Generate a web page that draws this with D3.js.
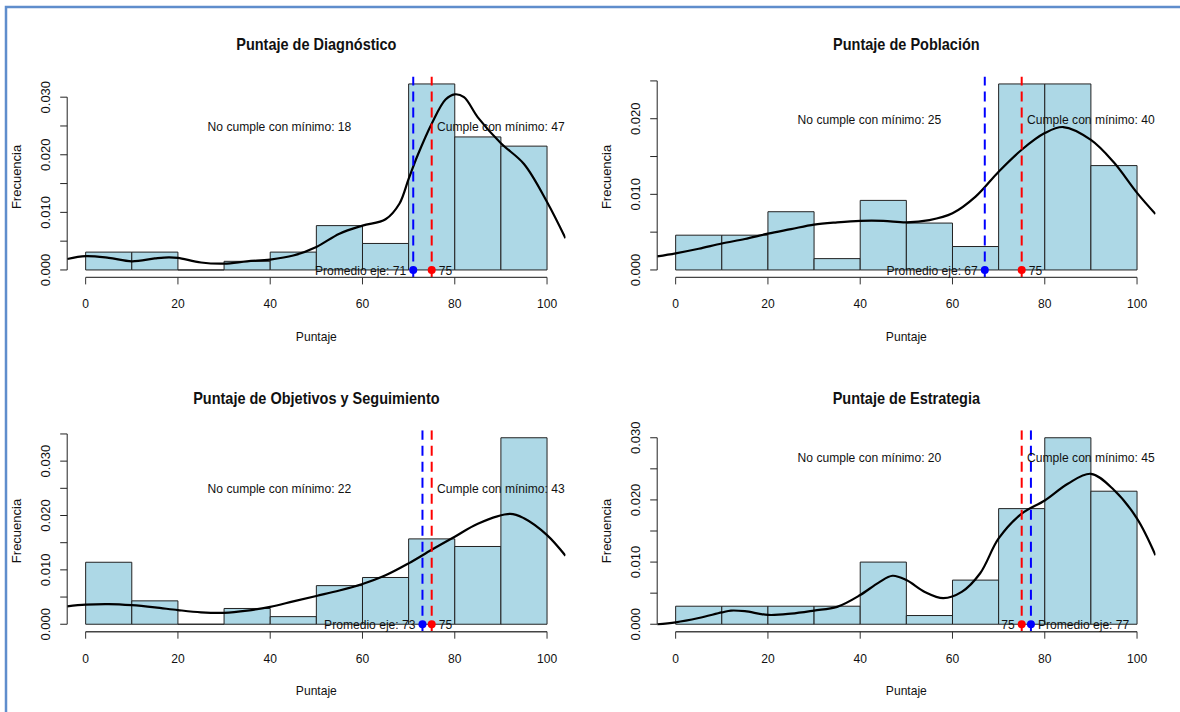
<!DOCTYPE html>
<html>
<head>
<meta charset="utf-8">
<script src="https://cdn.jsdelivr.net/npm/d3@7"></script>
<style>
  body { margin: 0; background: #fff; }
</style>
</head>
<body>
<div id="chart"></div>
<script>
////////// data //////////
var titles = ["Puntaje de Diagnóstico", "Puntaje de Población",
              "Puntaje de Objetivos y Seguimiento", "Puntaje de Estrategia"];

var binStarts = [0, 10, 20, 30, 40, 50, 60, 70, 80, 90];

// histogram densities (freq = FALSE)
var diagDensity = [0.0031, 0.0031, 0, 0.0015, 0.0031, 0.0077, 0.0046, 0.0323, 0.0231, 0.0215];
var poblDensity = [0.0046, 0.0046, 0.0077, 0.0015, 0.0092, 0.0062, 0.0031, 0.0246, 0.0246, 0.0138];
var objDensity  = [0.0114, 0.0043, 0, 0.0029, 0.0014, 0.0071, 0.0086, 0.0157, 0.0143, 0.0343];
var estrDensity = [0.0029, 0.0029, 0.0029, 0.0029, 0.0100, 0.0014, 0.0071, 0.0186, 0.0300, 0.0214];

// kernel density curves
var diagCurveX = [-4, 0, 5, 10, 15, 18, 20, 25, 30, 35, 40, 45, 50, 55, 60, 65, 68, 70, 72, 75, 78, 80, 82, 85, 90, 95, 100, 104];
var diagCurveY = [0.0019, 0.0024, 0.0021, 0.0015, 0.0020, 0.0022, 0.0021, 0.0013, 0.0011, 0.0015, 0.0018, 0.0025, 0.0040, 0.0063, 0.0077, 0.0088, 0.0115, 0.0158, 0.0200, 0.0254, 0.0296, 0.0305, 0.0300, 0.0265, 0.0220, 0.0184, 0.0118, 0.0055];

var poblCurveX = [-4, 0, 5, 10, 15, 20, 25, 30, 35, 40, 45, 50, 55, 60, 65, 70, 75, 80, 84, 90, 95, 100, 104];
var poblCurveY = [0.0018, 0.0022, 0.0028, 0.0035, 0.0041, 0.0048, 0.0054, 0.0060, 0.0063, 0.0065, 0.0065, 0.0063, 0.0066, 0.0075, 0.0097, 0.0130, 0.0159, 0.0181, 0.0189, 0.0172, 0.0142, 0.0102, 0.0074];

var objCurveX = [-4, 0, 5, 10, 15, 20, 25, 30, 35, 40, 45, 50, 55, 60, 65, 70, 75, 80, 85, 92, 95, 100, 104];
var objCurveY = [0.0033, 0.0036, 0.0037, 0.0035, 0.0031, 0.0026, 0.0022, 0.0021, 0.0025, 0.0032, 0.0042, 0.0052, 0.0062, 0.0074, 0.0090, 0.0112, 0.0137, 0.0161, 0.0185, 0.0203, 0.0195, 0.0164, 0.0126];

var estrCurveX = [-4, 0, 5, 10, 12, 15, 20, 25, 30, 35, 40, 44, 47, 50, 54, 58, 62, 66, 70, 75, 80, 85, 90, 95, 100, 104];
var estrCurveY = [0.0000, 0.0003, 0.0010, 0.0019, 0.0022, 0.0021, 0.0015, 0.0017, 0.0022, 0.0028, 0.0047, 0.0067, 0.0078, 0.0071, 0.0052, 0.0042, 0.0052, 0.0082, 0.0138, 0.0178, 0.0199, 0.0226, 0.0242, 0.0216, 0.0170, 0.0111];

var means    = [71, 67, 73, 77];     // promedio eje (blue)
var minimo   = 75;                   // minimum (red)
var noCumple = [18, 25, 22, 20];
var cumple   = [47, 40, 43, 45];
var noteY    = [0.0249, 0.0199, 0.0249, 0.0268];
var noteX    = [42, 90];

////////// page //////////
var W = 1180, H = 712,
    SX = 0.93,               // the original picture is a little squeezed sideways
    FONT = "'Liberation Sans', Arial, sans-serif";

var svg = d3.select("#chart").append("svg")
    .attr("width", W)
    .attr("height", H);

svg.append("rect").attr("width", W).attr("height", H).attr("fill", "#fff");

// frame of the pasted picture
svg.append("path")
    .attr("d", "M6,712 V7 H1180")
    .attr("fill", "none")
    .attr("stroke", "#5f8dcc")
    .attr("stroke-width", 2.5);

// horizontal text, squeezed like the original
function hText(g, x, y, s, anchor, size, weight) {
    return g.append("text")
        .attr("transform", "translate(" + x + "," + y + ") scale(" + SX + ",1)")
        .attr("text-anchor", anchor || "middle")
        .attr("font-family", FONT)
        .attr("font-size", size || 13)
        .attr("font-weight", weight || "normal")
        .attr("fill", "#111")
        .text(s);
}

function vText(g, x, y, s, size) {
    return g.append("text")
        .attr("transform", "translate(" + x + "," + y + ") scale(" + SX + ",1) rotate(-90)")
        .attr("text-anchor", "middle")
        .attr("font-family", FONT)
        .attr("font-size", size || 13)
        .attr("fill", "#111")
        .text(s);
}

var panels = [
    {dens: diagDensity, cx: diagCurveX, cy: diagCurveY, col: 0, row: 0},
    {dens: poblDensity, cx: poblCurveX, cy: poblCurveY, col: 1, row: 0},
    {dens: objDensity,  cx: objCurveX,  cy: objCurveY,  col: 0, row: 1},
    {dens: estrDensity, cx: estrCurveX, cy: estrCurveY, col: 1, row: 1}
];

// ====================== one histogram panel ======================
function drawPanel(p, i) {
    var left   = 67.2 + p.col * 590,
        right  = left + 498.3,
        top    = p.row ? 430.3 : 76.5,
        bottom = p.row ? 631.7 : 277.4,
        ymax   = d3.max(p.dens);

    var x = d3.scaleLinear().domain([-4, 104]).range([left, right]);
    var y = d3.scaleLinear().domain([-0.04 * ymax, 1.04 * ymax]).range([bottom, top]);

    var g = svg.append("g");

    g.append("clipPath").attr("id", "clip" + i)
        .append("rect")
        .attr("x", left).attr("y", top)
        .attr("width", right - left).attr("height", bottom - top);

    var plot = g.append("g").attr("clip-path", "url(#clip" + i + ")");

    // bars as paths so the empty bins still leave their base line
    plot.selectAll(".bar")
        .data(binStarts).enter()
        .append("path")
        .attr("class", "bar")
        .attr("d", function(b, j) {
            return "M" + x(b) + "," + y(0) + "V" + y(p.dens[j]) +
                   "H" + x(b + 10) + "V" + y(0) + "Z";
        })
        .attr("fill", "#add8e6")
        .attr("stroke", "#222")
        .attr("stroke-width", 1);

    // density curve
    var line = d3.line()
        .x(function(d) { return x(d[0]); })
        .y(function(d) { return y(d[1]); })
        .curve(d3.curveCatmullRom);

    plot.append("path")
        .datum(d3.zip(p.cx, p.cy))
        .attr("d", line)
        .attr("fill", "none")
        .attr("stroke", "#000")
        .attr("stroke-width", 2.2);

    // mean and minimum lines
    [[means[i], "#0000ff"], [minimo, "#ff0000"]].forEach(function(v) {
        plot.append("line")
            .attr("x1", x(v[0])).attr("x2", x(v[0]))
            .attr("y1", bottom).attr("y2", top)
            .attr("stroke", v[1])
            .attr("stroke-width", 2)
            .attr("stroke-dasharray", "10,6");
    });

    // axes
    var yTicks = y.ticks(8).filter(function(t) { return t >= 0; });
    g.append("line")
        .attr("x1", left).attr("x2", left)
        .attr("y1", y(0)).attr("y2", y(d3.max(yTicks)))
        .attr("stroke", "#222");
    yTicks.forEach(function(t, k) {
        g.append("line")
            .attr("x1", left - 7).attr("x2", left)
            .attr("y1", y(t)).attr("y2", y(t))
            .attr("stroke", "#222");
        if (k % 2 === 0) vText(g, left - 17, y(t), d3.format(".3f")(t));
    });

    var xTicks = [0, 20, 40, 60, 80, 100];
    g.append("line")
        .attr("x1", x(0)).attr("x2", x(100))
        .attr("y1", bottom).attr("y2", bottom)
        .attr("stroke", "#444")
        .attr("stroke-width", 1.4);
    xTicks.forEach(function(t) {
        g.append("line")
            .attr("x1", x(t)).attr("x2", x(t))
            .attr("y1", bottom).attr("y2", bottom + 7)
            .attr("stroke", "#333");
        hText(g, x(t), bottom + 31, t);
    });

    // titles and axis labels
    hText(g, (left + right) / 2, top - 26.8, titles[i], "middle", 15.6, "bold");
    hText(g, (left + right) / 2, bottom + 63.5, "Puntaje");
    vText(g, left - 46.2, (top + bottom) / 2, "Frecuencia");

    // counts
    hText(g, x(noteX[0]), y(noteY[i]) + 4.6, "No cumple con mínimo: " + noCumple[i]);
    hText(g, x(noteX[1]), y(noteY[i]) + 4.6, "Cumple con mínimo: " + cumple[i]);

    // points and their labels
    var meanLeft = means[i] < minimo;
    hText(g, x(means[i]) + (meanLeft ? -7 : 7), y(0) + 4.6,
          "Promedio eje: " + means[i], meanLeft ? "end" : "start");
    hText(g, x(minimo) + (meanLeft ? 7 : -7), y(0) + 4.6,
          minimo, meanLeft ? "start" : "end");

    [[means[i], "#0000ff"], [minimo, "#ff0000"]].forEach(function(v) {
        g.append("circle")
            .attr("cx", x(v[0])).attr("cy", y(0))
            .attr("r", 4)
            .attr("fill", v[1]);
    });
}

panels.forEach(drawPanel);
</script>
</body>
</html>
